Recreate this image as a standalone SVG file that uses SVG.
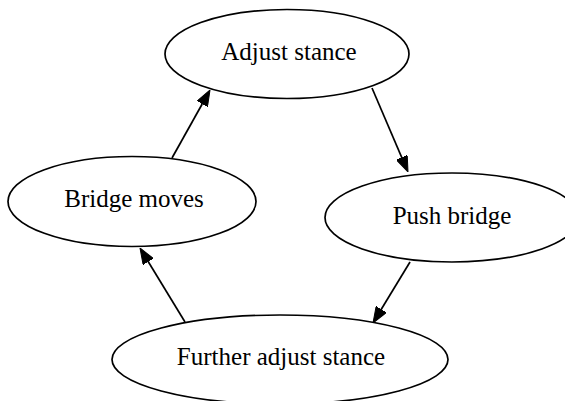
<svg xmlns="http://www.w3.org/2000/svg" width="565" height="401" viewBox="0 0 565 401">
  <style>
    .node ellipse { fill: #ffffff; stroke: #000000; stroke-width: 1.7; }
    .node text { font-family: "Liberation Serif", "Times New Roman", serif; font-size: 25px; fill: #000000; text-anchor: middle; }
    .edge { stroke: #000000; stroke-width: 1.7; fill: none; marker-end: url(#arrow); }
  </style>
  <defs>
    <marker id="arrow" markerUnits="userSpaceOnUse" markerWidth="16" markerHeight="12" viewBox="0 0 16 12" refX="0" refY="6" orient="auto">
      <path d="M0,0 L16,6 L0,12 Z" fill="#000000" stroke="#000000" stroke-width="1"/>
    </marker>
  </defs>
  <rect width="565" height="401" fill="#ffffff"/>

  <g id="adjust-stance" class="node">
    <ellipse cx="287" cy="54" rx="122" ry="44.5"/>
    <text x="289" y="60">Adjust stance</text>
  </g>
  <g id="push-bridge" class="node">
    <ellipse cx="452" cy="217.5" rx="127" ry="44.5"/>
    <text x="452" y="223.5">Push bridge</text>
  </g>
  <g id="further-adjust-stance" class="node">
    <ellipse cx="280" cy="359.5" rx="168" ry="44.5"/>
    <text x="281" y="365">Further adjust stance</text>
  </g>
  <g id="bridge-moves" class="node">
    <ellipse cx="132" cy="201.5" rx="124" ry="45"/>
    <text x="134" y="207">Bridge moves</text>
  </g>

  <g id="connectors">
    <path class="edge" d="M372,88 L401.7,157.3"/>
    <path class="edge" d="M410,262 L381.3,309.3"/>
    <path class="edge" d="M185,322 L148.3,261.7"/>
    <path class="edge" d="M172,158 L202.2,104"/>
  </g>
</svg>
